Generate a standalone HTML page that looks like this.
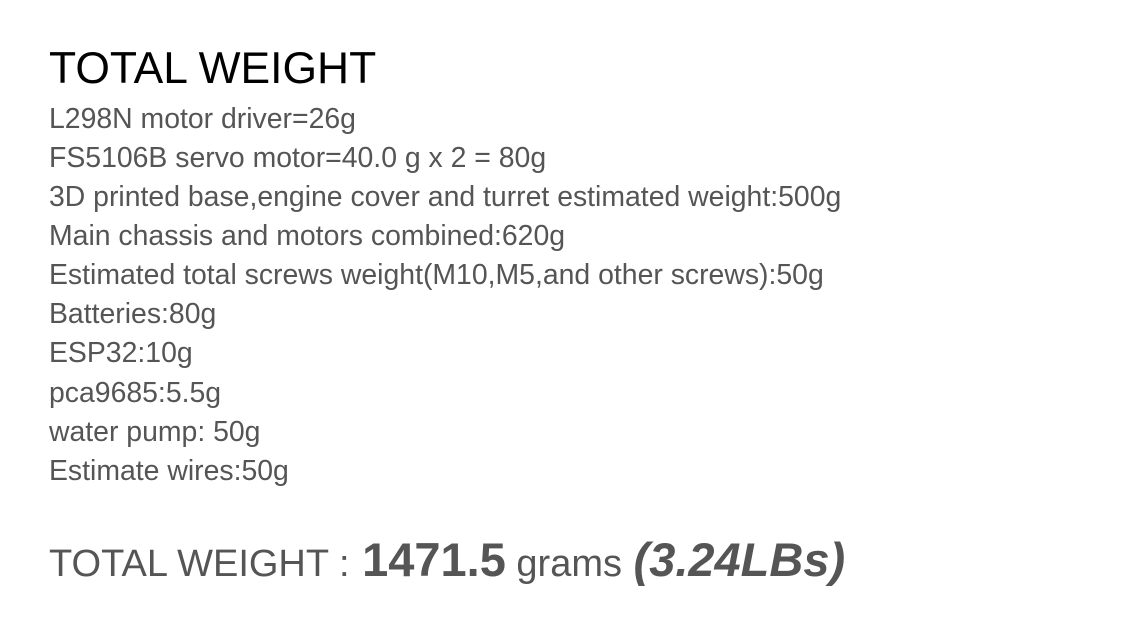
<!DOCTYPE html>
<html>
<head>
<meta charset="utf-8">
<style>
html,body{margin:0;padding:0;background:#fff;}
body{width:1136px;height:638px;overflow:hidden;position:relative;font-family:"Liberation Sans",Arial,sans-serif;color:#555;}
.t{position:absolute;left:49px;white-space:nowrap;line-height:1;}
.l{font-size:28.4px;height:28px;}
</style>
</head>
<body>
<div class="t" style="top:47px;font-size:44.4px;color:#000;">TOTAL WEIGHT</div>
<div class="t l" style="top:105px;">L298N motor driver=26g</div>
<div class="t l" style="top:144px;">FS5106B servo motor=40.0 g x 2 = 80g</div>
<div class="t l" style="top:183px;">3D printed base,engine cover and turret estimated weight:500g</div>
<div class="t l" style="top:222px;">Main chassis and motors combined:620g</div>
<div class="t l" style="top:261px;">Estimated total screws weight(M10,M5,and other screws):50g</div>
<div class="t l" style="top:300px;">Batteries:80g</div>
<div class="t l" style="top:339px;">ESP32:10g</div>
<div class="t l" style="top:379px;">pca9685:5.5g</div>
<div class="t l" style="top:418px;">water pump: 50g</div>
<div class="t l" style="top:457px;">Estimate wires:50g</div>
<div class="t" style="top:535px;font-size:38px;line-height:50px;">TOTAL WEIGHT : <b style="font-size:47px;margin-left:2px;">1471.5</b> grams <b style="font-size:47px;font-style:italic;margin-left:1px;">(3.24LBs)</b></div>
</body>
</html>
